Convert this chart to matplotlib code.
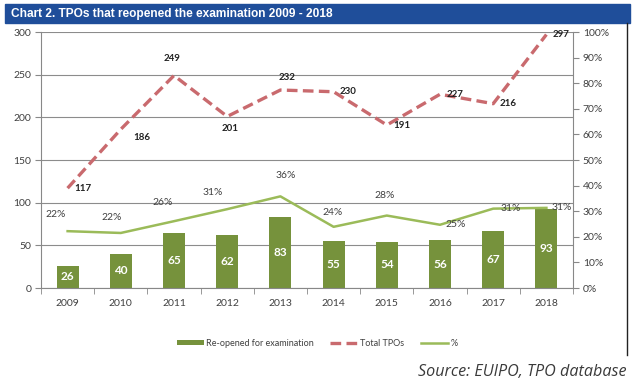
import matplotlib
matplotlib.use("Agg")
import matplotlib.pyplot as plt
from matplotlib.lines import Line2D
from matplotlib.patches import Rectangle
from matplotlib.ticker import FixedLocator, PercentFormatter

years = ["2009", "2010", "2011", "2012", "2013", "2014", "2015", "2016", "2017", "2018"]
reopened = [26, 40, 65, 62, 83, 55, 54, 56, 67, 93]
total_tpos = [117, 186, 249, 201, 232, 230, 191, 227, 216, 297]
pct = [22.2, 21.5, 26.1, 30.8, 35.8, 23.9, 28.3, 24.7, 31.0, 31.3]
pct_labels = ["22%", "22%", "26%", "31%", "36%", "24%", "28%", "25%", "31%", "31%"]

# label offsets in pixels (style only)
tot_off = [(15, 0), (21, -8), (-2, 17), (3, -12), (7, 13), (14, 0), (15, 0), (15, 0), (15, 0), (15, 0)]
pct_off = [(-12, 17), (-9, 15), (-11, 19), (-14, 17), (5, 21), (-1, 14), (-2, 20), (16, 0), (18, 0), (15, 0)]

FONT = ["Lato", "DejaVu Sans"]
plt.rcParams["font.family"] = FONT

W, H = 634, 385
fig = plt.figure(figsize=(W / 100, H / 100), dpi=100)

# title band
fig.patches.append(Rectangle((5 / W, 1 - 23 / H), (630 - 5) / W, 19 / H,
                             transform=fig.transFigure, color="#1F4E9A", zorder=0))
fig.text(11 / W, 1 - 13.5 / H, "Chart 2. TPOs that reopened the examination 2009 - 2018",
         color="white", fontsize=8.6, fontweight="bold",
         family=["Liberation Sans Narrow", "Liberation Sans", "DejaVu Sans"],
         va="center", ha="left")
# right border
fig.add_artist(Line2D([627 / W, 627 / W], [1 - 23 / H, 1 - 355 / H],
                      transform=fig.transFigure, color="#222222", lw=1.0))

ax = fig.add_axes([41 / W, 1 - 288 / H, (573 - 41) / W, (288 - 32) / H])
x = list(range(len(years)))
grey = "#404040"

bars = ax.bar(x, reopened, width=0.41, color="#76923C", zorder=2,
              label="Re-opened for examination")
for xi, v in zip(x, reopened):
    ax.text(xi, v / 2, str(v), color="white", ha="center", va="center",
            fontsize=8.5, fontweight="bold", zorder=5)

ax.plot(x, total_tpos, color="#C96A6E", lw=2.4, dashes=(3.2, 1.6), zorder=3,
        label="Total TPOs")
for xi, v, (dx, dy) in zip(x, total_tpos, tot_off):
    ax.annotate(str(v), (xi, v), xytext=(dx, dy), textcoords="offset pixels",
                ha="center", va="center", fontsize=7, fontweight="bold",
                color="#222222", zorder=6)

ax.set_xlim(-0.5, 9.5)
ax.set_ylim(0, 300)
ax.set_yticks(range(0, 301, 50))
ax.set_xticks(x)
ax.set_xticklabels(years)
ax.xaxis.set_minor_locator(FixedLocator([i - 0.5 for i in range(11)]))
ax.tick_params(axis="x", which="major", length=0, pad=8, labelsize=7.5, labelcolor=grey)
ax.tick_params(axis="x", which="minor", length=4, color="#888888", direction="out")
ax.tick_params(axis="y", length=4, color="#888888", labelsize=7.5, labelcolor=grey, pad=3)
ax.grid(axis="y", color="#8C8C8C", lw=0.8, zorder=0)
ax.set_axisbelow(True)
for s in ["top", "right"]:
    ax.spines[s].set_visible(False)
for s in ["left", "bottom"]:
    ax.spines[s].set_color("#888888")
    ax.spines[s].set_linewidth(0.8)

ax2 = ax.twinx()
ax2.plot(x, pct, color="#9BBB59", lw=1.8, zorder=4, label="%")
for xi, v, t, (dx, dy) in zip(x, pct, pct_labels, pct_off):
    ax2.annotate(t, (xi, v), xytext=(dx, dy), textcoords="offset pixels",
                 ha="center", va="center", fontsize=7.5, color=grey, zorder=6)
ax2.set_ylim(0, 100)
ax2.set_yticks(range(0, 101, 10))
ax2.yaxis.set_major_formatter(PercentFormatter(decimals=0))
ax2.tick_params(axis="y", length=4, color="#888888", labelsize=7.5, labelcolor=grey, pad=3)
for s in ["top", "left", "bottom"]:
    ax2.spines[s].set_visible(False)
ax2.spines["right"].set_color("#888888")
ax2.spines["right"].set_linewidth(0.8)

handles = [bars, ax.get_lines()[0], ax2.get_lines()[0]]
fig.legend(handles, [h.get_label() for h in handles], loc="center",
           bbox_to_anchor=(317 / W, 1 - 343 / H), ncol=3, frameon=False,
           fontsize=6.5, handlelength=3.0, handleheight=0.5, columnspacing=1.8,
           handletextpad=0.3, labelcolor=grey)

fig.text(627 / W, 1 - 372 / H, "Source: EUIPO, TPO database", ha="right", va="center",
         fontsize=11.6, style="italic", color="#3A3A3A",
         family=["Open Sans", "DejaVu Sans"])

fig.savefig("out.png", dpi=100)
